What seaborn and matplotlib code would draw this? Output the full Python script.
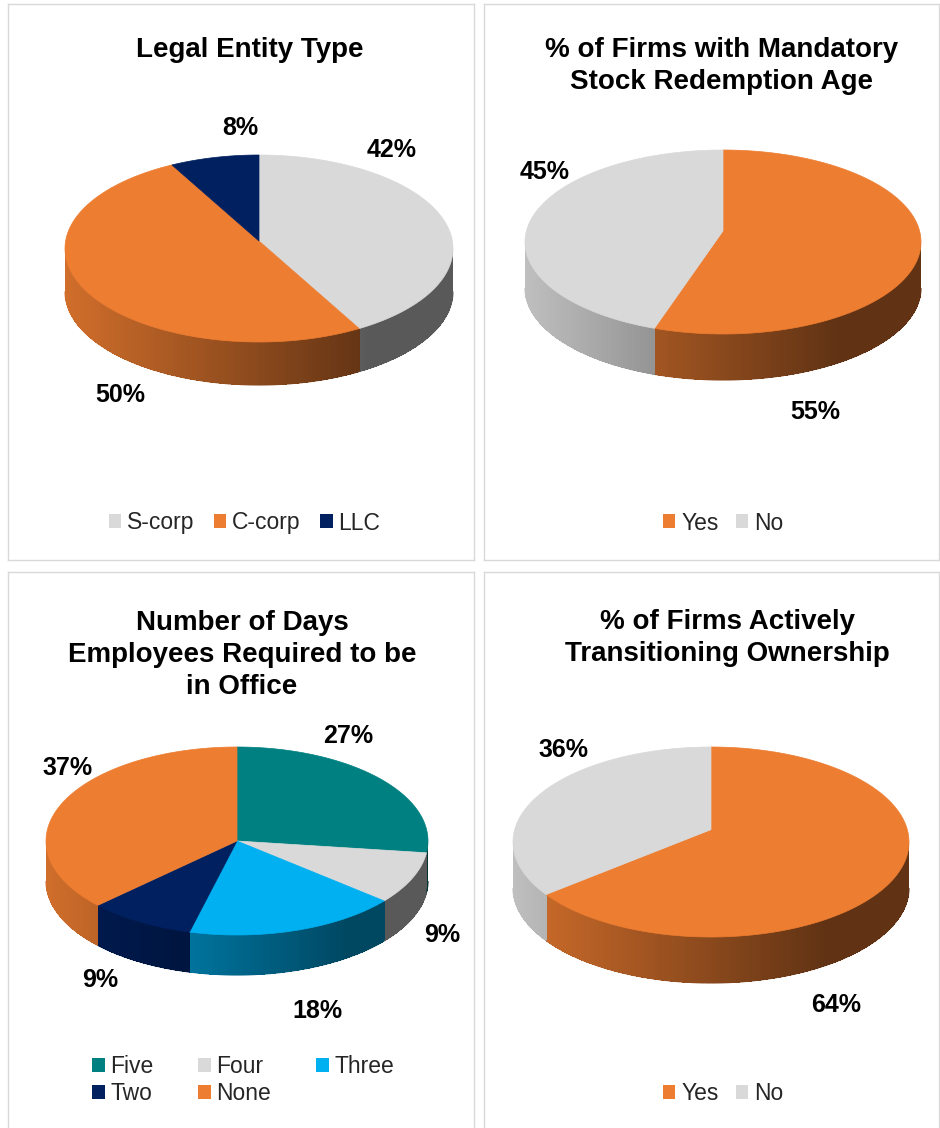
import numpy as np
import matplotlib.pyplot as plt
import seaborn as sns
from matplotlib.collections import PolyCollection, LineCollection
from matplotlib.patches import Polygon, Patch
from matplotlib.colors import to_rgb

# ==========================================
# Data
# ==========================================

entity_labels = ["S-corp", "C-corp", "LLC"]
entity_pct = [42, 50, 8]

redemption_labels = ["Yes", "No"]
redemption_pct = [55, 45]

office_labels = ["Five", "Four", "Three", "Two", "None"]
office_pct = [27, 9, 18, 9, 37]

transition_labels = ["Yes", "No"]
transition_pct = [64, 36]

ORANGE = "#ED7D31"
LIGHT_GRAY = "#D9D9D9"
NAVY = "#002060"
TEAL = "#008080"
SKY = "#00B0F0"

# ==========================================
# Style
# ==========================================

sns.set_theme(style="white")
plt.rcParams["font.family"] = ["Liberation Sans", "DejaVu Sans"]

W, H = 940, 1128
fig = plt.figure(figsize=(W / 100, H / 100), dpi=100)
fig.patch.set_facecolor("white")


def make_panel(x0, y0, w, h, bottom=True):
    # axes in pixel units of the panel, y going down
    ax = fig.add_axes([x0 / W, 1 - (y0 + h) / H, w / W, h / H])
    ax.set_xlim(0, w)
    ax.set_ylim(h, 0)
    ax.set_xticks([])
    ax.set_yticks([])
    for s in ax.spines.values():
        s.set_color("#D9D9D9")
        s.set_linewidth(1)
    if not bottom:
        ax.spines["bottom"].set_visible(False)
    return ax


def pie3d(ax, values, colors, cx, cy, rx, ry, depth, k):
    frac = np.asarray(values, float) / np.sum(values)
    edges = np.concatenate([[0], np.cumsum(frac)]) * 2 * np.pi

    def proj(t):
        u, v = np.sin(t), np.cos(t)
        w = 1 + k * v
        return u / w, v / w

    tt = np.linspace(0, 2 * np.pi, 3601)
    X, Y = proj(tt)
    xm = np.abs(X).max()
    yc = (Y.max() + Y.min()) / 2
    yh = (Y.max() - Y.min()) / 2

    def rim(t):
        X, Y = proj(t)
        return cx + rx * X / xm, cy - ry * (Y - yc) / yh

    apex = (cx, cy + ry * yc / yh)
    xs_all, _ = rim(tt)
    t_right = tt[np.argmax(xs_all)]
    t_left = tt[np.argmin(xs_all)]

    # side wall, shaded from left (lit) to right (dark)
    for a, b, c in zip(edges[:-1], edges[1:], colors):
        lo, hi = max(a, t_right), min(b, t_left)
        if hi <= lo:
            continue
        n = max(int((hi - lo) / np.pi * 300), 2)
        t = np.linspace(lo, hi, n + 1)
        x, y = rim(t)
        base = np.array(to_rgb(c))
        quads, fcs, segs = [], [], []
        for i in range(n):
            quads.append([(x[i], y[i]), (x[i + 1], y[i + 1]),
                          (x[i + 1], y[i + 1] + depth), (x[i], y[i] + depth)])
            segs.append([(x[i], y[i] + depth), (x[i + 1], y[i + 1] + depth)])
            xr = ((x[i] + x[i + 1]) / 2 - cx) / rx
            f = np.clip(0.58 - 0.3 * xr, 0.41, 0.9)
            fcs.append(base * f)
        ax.add_collection(PolyCollection(quads, facecolors=fcs,
                                         edgecolors="none", linewidths=0,
                                         antialiaseds=False))
        ax.add_collection(LineCollection(segs, colors=fcs, linewidths=0.8))

    # top face
    for a, b, c in zip(edges[:-1], edges[1:], colors):
        t = np.linspace(a, b, max(int((b - a) / np.pi * 240), 2))
        x, y = rim(t)
        pts = np.column_stack([np.r_[apex[0], x], np.r_[apex[1], y]])
        ax.add_patch(Polygon(pts, closed=True, facecolor=c, edgecolor=c,
                             linewidth=0.5))


def add_labels(ax, values, spots):
    for v, (x, y) in zip(values, spots):
        ax.text(x, y, f"{v}%", ha="center", va="center", fontsize=18,
                fontweight="bold", color="black")


def add_title(ax, text, x, y):
    ax.text(x, y, text, ha="center", va="center", fontsize=20,
            fontweight="bold", color="black", linespacing=1.28)


def add_legend(ax, labels, colors, x, y, ncol, colspace, order=None):
    handles = [Patch(facecolor=c, edgecolor="none", label=l)
               for l, c in zip(labels, colors)]
    if order is not None:
        handles = [handles[i] for i in order]
    ax.legend(handles=handles, loc="center", bbox_to_anchor=(x, y),
              bbox_transform=ax.transData, ncol=ncol, frameon=False,
              fontsize=16.5, handlelength=0.55, handleheight=0.55,
              handletextpad=0.25, columnspacing=colspace, labelspacing=0.15,
              borderaxespad=0, borderpad=0)


# ==========================================
# Panel 1: Legal Entity Type
# ==========================================

ax1 = make_panel(8, 4, 466, 556)
entity_colors = [LIGHT_GRAY, ORANGE, NAVY]
add_title(ax1, "Legal Entity Type", 242, 46)
pie3d(ax1, entity_pct, entity_colors, 251, 244.5, 194, 93.5, 43, 0.08)
add_labels(ax1, entity_pct, [(384, 146), (112, 391), (232, 124)])
add_legend(ax1, entity_labels, entity_colors, 236.5, 519, 3, 0.85)

# ==========================================
# Panel 2: Mandatory Stock Redemption Age
# ==========================================

ax2 = make_panel(484, 4, 455, 556)
yes_no_colors = [ORANGE, LIGHT_GRAY]
add_title(ax2, "% of Firms with Mandatory\nStock Redemption Age", 238, 62)
pie3d(ax2, redemption_pct, yes_no_colors, 239, 238, 198, 92, 46, 0.12)
add_labels(ax2, redemption_pct, [(331, 408), (61, 168)])
add_legend(ax2, redemption_labels, yes_no_colors, 239, 519, 2, 0.75)

# ==========================================
# Panel 3: Days Required in Office
# ==========================================

ax3 = make_panel(8, 572, 466, 556, bottom=False)
office_colors = [TEAL, LIGHT_GRAY, SKY, NAVY, ORANGE]
add_title(ax3, "Number of Days\nEmployees Required to be\nin Office", 234, 83)
pie3d(ax3, office_pct, office_colors, 229, 269, 191, 94, 40, 0.0)
add_labels(ax3, office_pct,
           [(340, 164), (434, 363), (309, 439), (92, 408), (60, 196)])
add_legend(ax3, office_labels, office_colors, 235, 508, 3, 1.95,
           order=[0, 3, 1, 4, 2])

# ==========================================
# Panel 4: Actively Transitioning Ownership
# ==========================================

ax4 = make_panel(484, 572, 455, 556, bottom=False)
add_title(ax4, "% of Firms Actively\nTransitioning Ownership", 243, 66)
pie3d(ax4, transition_pct, yes_no_colors, 227, 270, 198, 95, 46, 0.13)
add_labels(ax4, transition_pct, [(352, 433), (79, 178)])
add_legend(ax4, transition_labels, yes_no_colors, 239, 522, 2, 0.75)

fig.savefig("out.png", dpi=100)
plt.close(fig)
